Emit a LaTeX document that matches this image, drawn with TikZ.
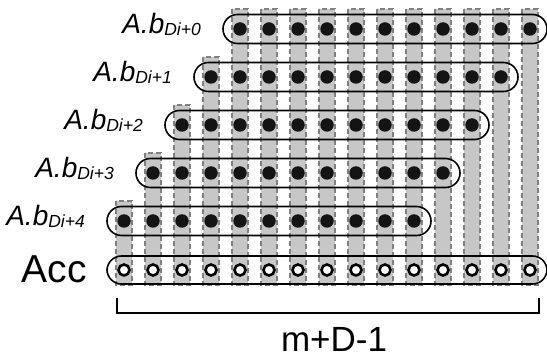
\documentclass[tikz,border=0pt]{standalone}
\usepackage{fontspec}
\setmainfont{Liberation Sans}
\usetikzlibrary{calc}

\newcommand{\rowlabel}[1]{{\fontsize{28}{28}\selectfont\itshape A.b\raisebox{-2.5pt}{\fontsize{17.5}{17.5}\selectfont Di+#1}}}

\tikzset{
  colbar/.style={fill=black!22, draw=black!50, dash pattern=on 5pt off 3pt, line width=1.3pt},
  bdot/.style={circle, fill=black!92, inner sep=0pt, minimum size=13.5pt},
  accdot/.style={circle, draw=black, fill=white, line width=2.6pt, inner sep=0pt, minimum size=11pt},
  rowbox/.style={line width=1.6pt, rounded corners=14.5pt},
}

\begin{document}
\begin{tikzpicture}[x=1pt, y=-1pt]
\useasboundingbox (0,0) rectangle (547,358);
% grey columns
\foreach \c in {0,...,14} {
  \pgfmathtruncatemacro{\first}{max(0,4-\c)}
  \draw[colbar] ({124+29*\c-8}, {9+48*\first}) rectangle ({124+29*\c+8}, 285);
}
% shifted rows
\foreach \r in {0,...,4} {
  \pgfmathtruncatemacro{\first}{4-\r}
  \pgfmathtruncatemacro{\last}{14-\r}
  \foreach \c in {\first,...,\last}
    \node[bdot] (d-\r-\c) at ({124+29*\c}, {29+48*\r}) {};
  \draw[rowbox] ($(d-\r-\first)+(-17,-14.5)$) rectangle ($(d-\r-\last)+(17,14.5)$);
  \node[anchor=base east, inner sep=0pt] (lbl-\r) at ($(d-\r-\first)+(-39,4.5)$) {\rowlabel{\r}};
}
% accumulator
\foreach \c in {0,...,14}
  \node[accdot] (acc-\c) at ({124+29*\c}, 270) {};
\draw[rowbox] ($(acc-0)+(-17,-14)$) rectangle ($(acc-14)+(17,14)$);
\node[anchor=base east, inner sep=0pt, font={\fontsize{39}{39}\selectfont}] (acc) at ($(acc-0)+(-37,13)$) {Acc};
% bracket
\coordinate (brL) at ($(acc-0)+(-7,28)$);
\coordinate (brR) at ($(acc-14)+(9,28)$);
\draw[line width=2.3pt] (brL) -- ($(brL)+(0,15)$) -- ($(brR)+(0,15)$) -- (brR);
\node[anchor=base, inner sep=0pt, font={\fontsize{35}{35}\selectfont}] (len) at ($(brL)!0.5!(brR)+(6,53.5)$) {m+D-1};
\end{tikzpicture}
\end{document}
